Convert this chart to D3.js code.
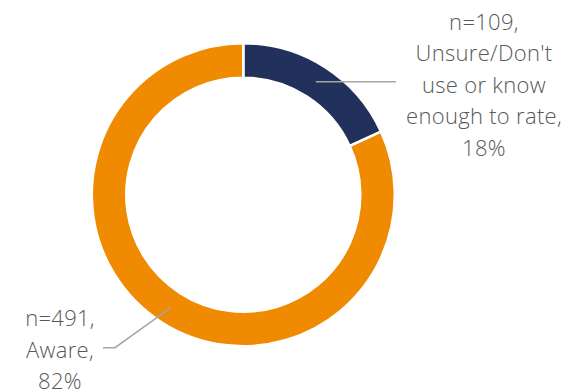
<!DOCTYPE html>
<html>
<head>
<meta charset="utf-8">
<script src="https://cdn.jsdelivr.net/npm/d3@7"></script>
<style>
  html, body { margin: 0; padding: 0; background: #fff; }
  svg { display: block; }
  text { font-family: "Open Sans", "Segoe UI", sans-serif; font-weight: 300; fill: #595959; }
</style>
</head>
<body>
<svg id="chart" width="584" height="391"></svg>
<script>
const categories = ["Unsure/Don't use or know enough to rate", "Aware"];
const counts = [109, 491];
const percents = ["18%", "82%"];
const labelLines = [
  ["n=109,", "Unsure/Don't", "use or know", "enough to rate,", "18%"],
  ["n=491,", "Aware,", "82%"]
];
const colors = ["#22305C", "#F08A00"];

const W = 584, H = 391;
const cx = 243.3, cy = 194.7;
const outerR = 151.5, innerR = 117;

const svg = d3.select("#chart");
const g = svg.append("g").attr("transform", `translate(${cx},${cy})`);

const data = categories.map((c, i) => ({ name: c, value: counts[i], pct: percents[i], lines: labelLines[i], color: colors[i] }));

const pie = d3.pie().sort(null).value(d => d.value);
const arc = d3.arc().innerRadius(innerR).outerRadius(outerR);
const arcs = pie(data);

g.selectAll("path.slice")
  .data(arcs)
  .enter().append("path")
  .attr("class", "slice")
  .attr("d", arc)
  .attr("fill", d => d.data.color)
  .attr("stroke", "#fff")
  .attr("stroke-width", 2.5);

const labelPos = [
  { x: 484 - cx, y0: 29.5 - cy },
  { x: 60 - cx, y0: 326.5 - cy }
];
const lineH = 31.5;

// leader lines
const c0 = arc.centroid(arcs[0]);
g.append("polyline")
  .attr("points", [c0, [396 - cx, c0[1]]].map(p => p.join(",")).join(" "))
  .attr("fill", "none").attr("stroke", "#A6A6A6").attr("stroke-width", 1.5);

const c1 = arc.centroid(arcs[1]);
g.append("polyline")
  .attr("points", [c1, [115 - cx, 347.7 - cy], [103 - cx, 347.7 - cy]].map(p => p.join(",")).join(" "))
  .attr("fill", "none").attr("stroke", "#A6A6A6").attr("stroke-width", 1.5);

arcs.forEach((a, i) => {
  const t = g.append("text")
    .attr("text-anchor", "middle")
    .attr("font-size", 22)
    .attr("letter-spacing", 0.3);
  a.data.lines.forEach((ln, j) => {
    t.append("tspan")
      .attr("x", labelPos[i].x)
      .attr("y", labelPos[i].y0 + j * lineH)
      .text(ln);
  });
});
</script>
</body>
</html>
